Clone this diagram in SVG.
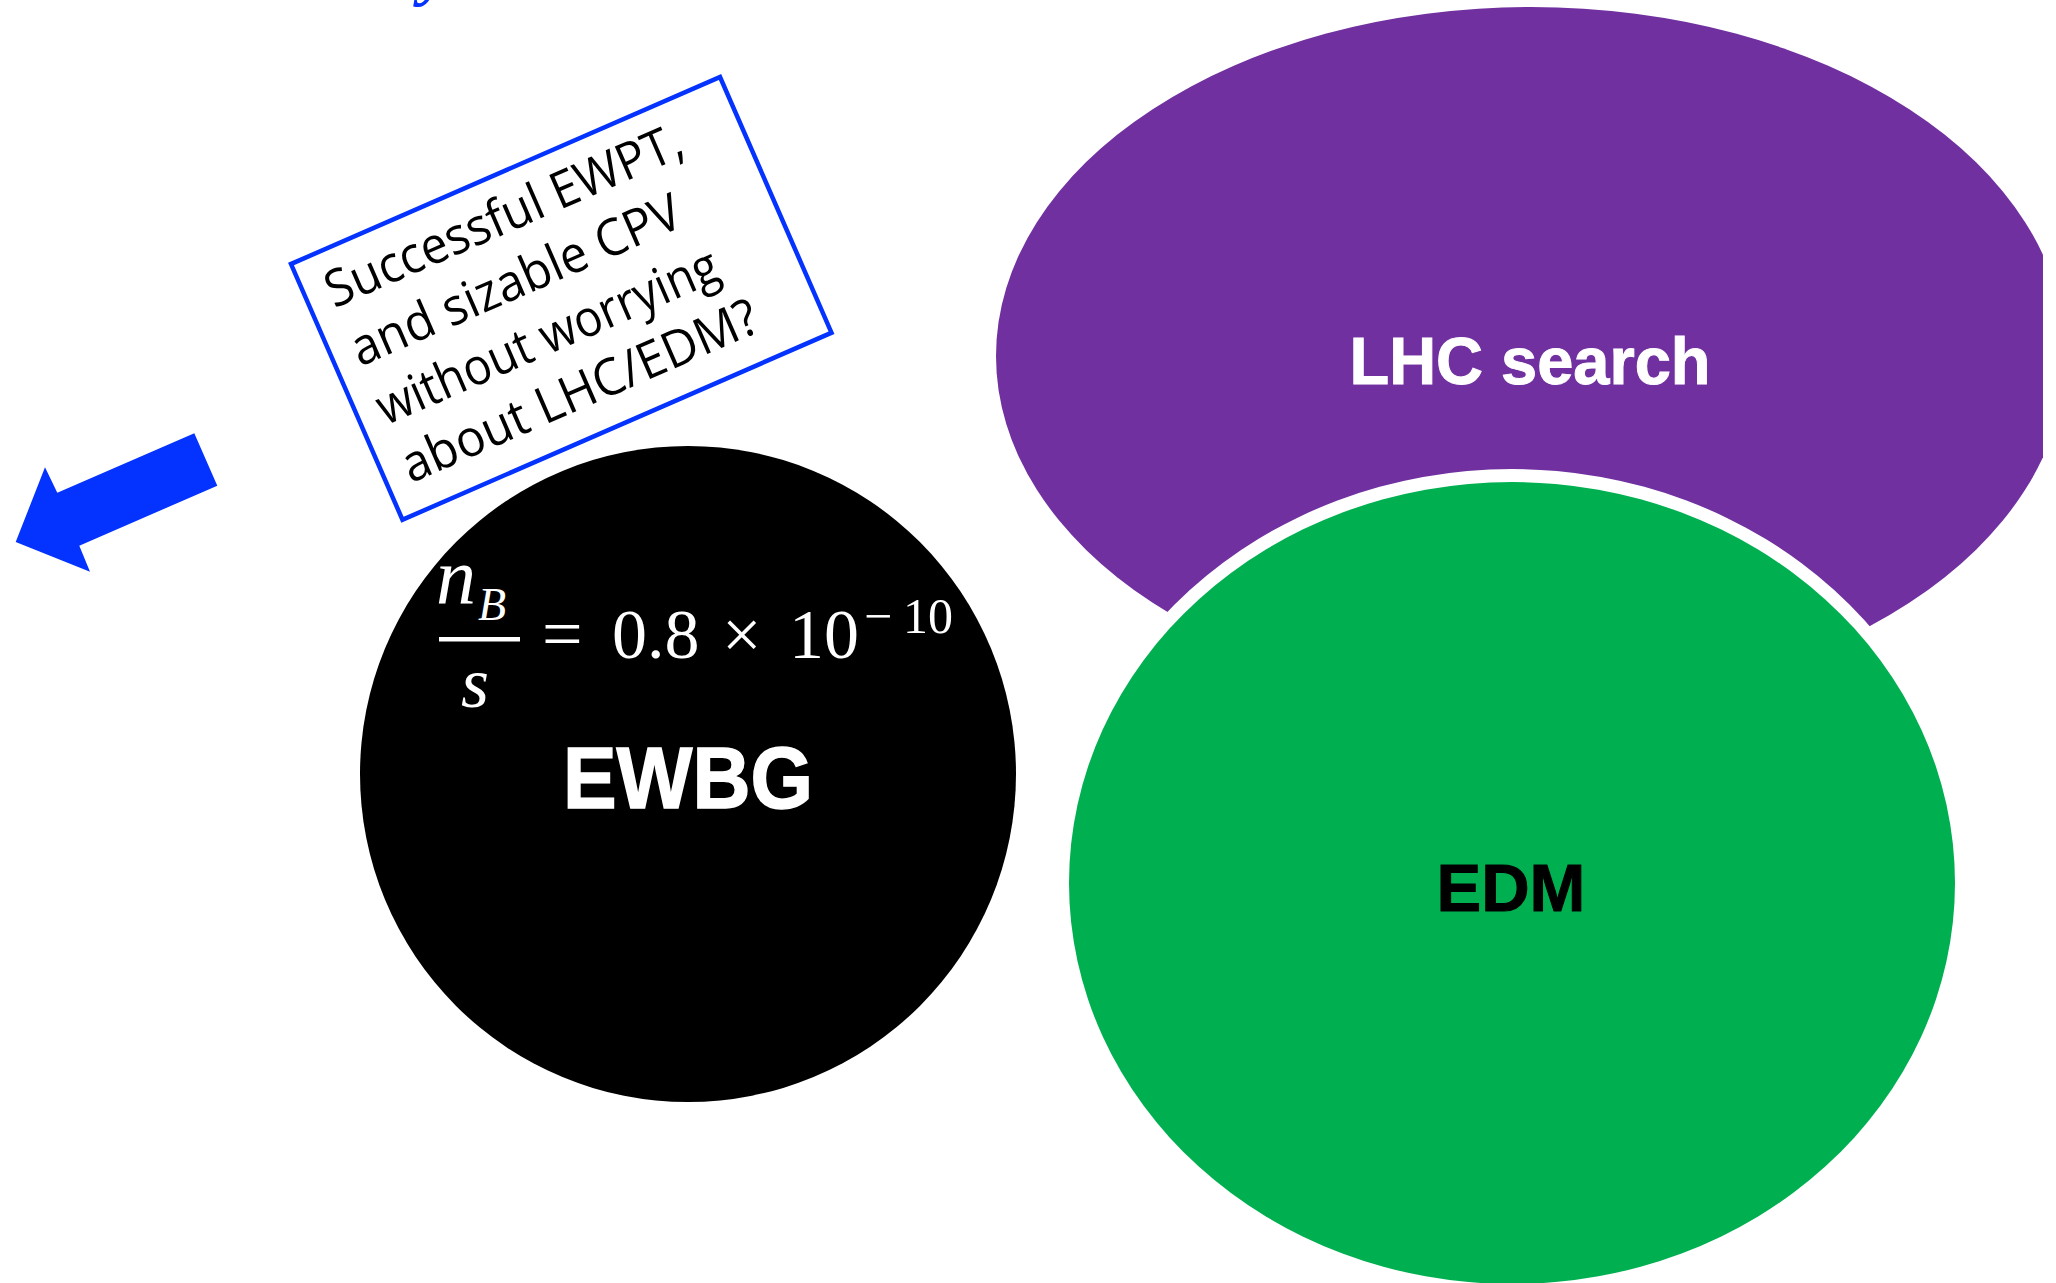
<svg xmlns="http://www.w3.org/2000/svg" width="2056" height="1283" viewBox="0 0 2056 1283">
  <style>
    .lbl { font-family: "Liberation Sans", Arial, sans-serif; font-weight: bold; text-anchor: middle; }
    .q { font-family: "Open Sans", "DejaVu Sans", sans-serif; font-size: 51px; fill: #000; }
    .m { font-family: "Liberation Serif", "Times New Roman", serif; fill: #fff; }
    .mi { font-style: italic; }
  </style>
  <defs>
    <clipPath id="clipRight">
      <rect x="0" y="0" width="2043" height="1283"/>
    </clipPath>
  </defs>
  <rect x="0" y="0" width="2056" height="1283" fill="#ffffff"/>

  <text x="420" y="-7" font-family="Liberation Serif, serif" font-size="68" font-weight="bold" font-style="italic" fill="#0433FF">y</text>

  <g id="node-lhc">
    <ellipse cx="1531" cy="356" rx="535" ry="349" fill="#7030A0" clip-path="url(#clipRight)"/>
    <text class="lbl" x="1530" y="384" font-size="67" fill="#ffffff" stroke="#ffffff" stroke-width="1" textLength="361" lengthAdjust="spacingAndGlyphs">LHC search</text>
  </g>

  <g id="node-edm">
    <ellipse cx="1512" cy="883" rx="456" ry="414" fill="#ffffff"/>
    <ellipse cx="1512" cy="883" rx="443" ry="401" fill="#00B050"/>
    <text class="lbl" x="1511" y="911" font-size="67" fill="#000000" stroke="#000000" stroke-width="1">EDM</text>
  </g>

  <g id="node-ewbg">
    <circle cx="688" cy="774" r="328" fill="#000000"/>
    <rect x="439" y="637" width="81" height="4.5" fill="#ffffff"/>
    <text class="m mi" x="436" y="603" font-size="80">n</text>
    <text class="m mi" x="478" y="620" font-size="46">B</text>
    <text class="m mi" x="461" y="707" font-size="72">s</text>
    <text class="m" y="658" font-size="70"><tspan x="542" font-size="72">=</tspan><tspan x="612">0.8</tspan><tspan x="722">×</tspan><tspan x="789">10</tspan></text>
    <text class="m" y="633" font-size="50"><tspan x="864">−</tspan><tspan x="903">10</tspan></text>
    <text class="lbl" x="688" y="808" font-size="87" fill="#ffffff" stroke="#ffffff" stroke-width="1.5" textLength="250" lengthAdjust="spacingAndGlyphs">EWBG</text>
  </g>

  <g id="node-question" transform="translate(291,264) rotate(-23.55)">
    <rect x="0" y="0" width="468" height="279" fill="#ffffff" stroke="#0433FF" stroke-width="4.5"/>
    <text class="q" x="22" y="58" textLength="385" lengthAdjust="spacingAndGlyphs">Successful EWPT,</text>
    <text class="q" x="22" y="122" textLength="355" lengthAdjust="spacingAndGlyphs">and sizable CPV</text>
    <text class="q" x="22" y="186" textLength="368" lengthAdjust="spacingAndGlyphs">without worrying</text>
    <text class="q" x="22" y="249" textLength="384" lengthAdjust="spacingAndGlyphs">about LHC/EDM?</text>
  </g>

  <g id="connectors">
    <polygon points="194.3,433.3 217.3,485.7 79.3,545.7 90,571.7 15.7,542 45,467.3 57.3,492.7" fill="#0433FF"/>
  </g>
</svg>
